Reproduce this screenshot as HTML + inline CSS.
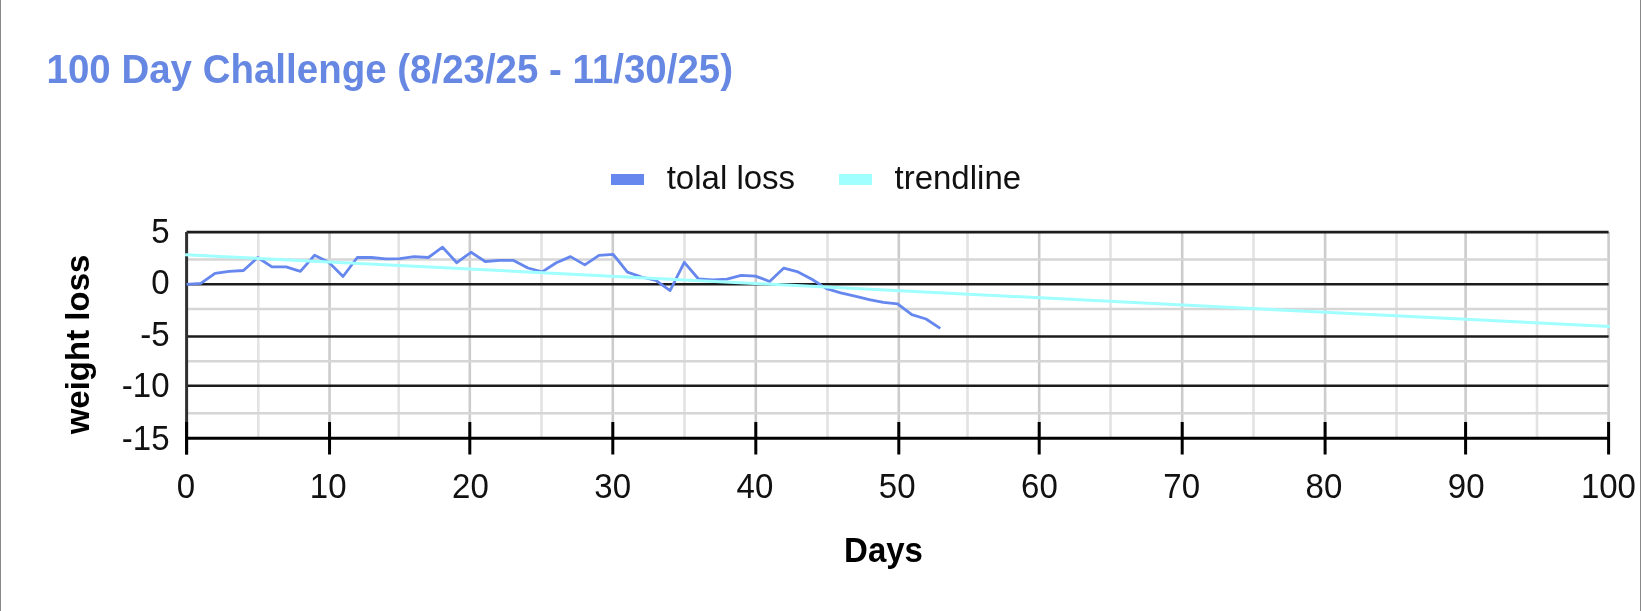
<!DOCTYPE html>
<html><head><meta charset="utf-8"><style>
html,body{margin:0;padding:0;background:#fff;width:1641px;height:611px;overflow:hidden}
body{position:relative;font-family:"Liberation Sans",sans-serif}
.bl{position:absolute;top:0;bottom:0;width:1.3px;background:#888}
svg{position:absolute;left:0;top:0;will-change:transform}
.ax{font-family:"Liberation Sans",sans-serif;font-size:33px;fill:#111}
.b{font-weight:bold}
</style></head><body>
<div class="bl" style="left:0"></div>
<div class="bl" style="right:0"></div>
<svg width="1641" height="611" viewBox="0 0 1641 611">
<text transform="translate(46.5,83) scale(1,1.035)" style="font-family:'Liberation Sans',sans-serif;font-size:38.5px;font-weight:bold;fill:#6688e2">100 Day Challenge (8/23/25 - 11/30/25)</text>
<rect x="611" y="174" width="33" height="11" fill="#6688ee"/>
<text transform="translate(666.7,188.8)" class="ax">tolal loss</text>
<rect x="839" y="174" width="33" height="11" fill="#a0ffff"/>
<text transform="translate(894.5,188.8)" class="ax">trendline</text>
<line x1="258.30" y1="232" x2="258.30" y2="438" stroke="#e3e3e3" stroke-width="2.6"/><line x1="398.70" y1="232" x2="398.70" y2="438" stroke="#e3e3e3" stroke-width="2.6"/><line x1="541.50" y1="232" x2="541.50" y2="438" stroke="#e3e3e3" stroke-width="2.6"/><line x1="684.50" y1="232" x2="684.50" y2="438" stroke="#e3e3e3" stroke-width="2.6"/><line x1="827.50" y1="232" x2="827.50" y2="438" stroke="#e3e3e3" stroke-width="2.6"/><line x1="967.50" y1="232" x2="967.50" y2="438" stroke="#e3e3e3" stroke-width="2.6"/><line x1="1110.50" y1="232" x2="1110.50" y2="438" stroke="#e3e3e3" stroke-width="2.6"/><line x1="1253.50" y1="232" x2="1253.50" y2="438" stroke="#e3e3e3" stroke-width="2.6"/><line x1="1396.50" y1="232" x2="1396.50" y2="438" stroke="#e3e3e3" stroke-width="2.6"/><line x1="1537.00" y1="232" x2="1537.00" y2="438" stroke="#e3e3e3" stroke-width="2.6"/><line x1="329.55" y1="232" x2="329.55" y2="438" stroke="#cccccc" stroke-width="2.6"/><line x1="469.80" y1="232" x2="469.80" y2="438" stroke="#cccccc" stroke-width="2.6"/><line x1="612.80" y1="232" x2="612.80" y2="438" stroke="#cccccc" stroke-width="2.6"/><line x1="755.80" y1="232" x2="755.80" y2="438" stroke="#cccccc" stroke-width="2.6"/><line x1="898.80" y1="232" x2="898.80" y2="438" stroke="#cccccc" stroke-width="2.6"/><line x1="1039.20" y1="232" x2="1039.20" y2="438" stroke="#cccccc" stroke-width="2.6"/><line x1="1182.20" y1="232" x2="1182.20" y2="438" stroke="#cccccc" stroke-width="2.6"/><line x1="1325.10" y1="232" x2="1325.10" y2="438" stroke="#cccccc" stroke-width="2.6"/><line x1="1465.60" y1="232" x2="1465.60" y2="438" stroke="#cccccc" stroke-width="2.6"/><line x1="1608.60" y1="232" x2="1608.60" y2="438" stroke="#cccccc" stroke-width="2.6"/><line x1="186.6" y1="259.5" x2="1608.6" y2="259.5" stroke="#d6d6d6" stroke-width="2.6"/><line x1="186.6" y1="309.0" x2="1608.6" y2="309.0" stroke="#d6d6d6" stroke-width="2.6"/><line x1="186.6" y1="361.2" x2="1608.6" y2="361.2" stroke="#d6d6d6" stroke-width="2.6"/><line x1="186.6" y1="413.3" x2="1608.6" y2="413.3" stroke="#d6d6d6" stroke-width="2.6"/><line x1="186.6" y1="232.1" x2="1608.6" y2="232.1" stroke="#1c1c1c" stroke-width="2.6"/><line x1="186.6" y1="284.3" x2="1608.6" y2="284.3" stroke="#1c1c1c" stroke-width="2.6"/><line x1="186.6" y1="336.5" x2="1608.6" y2="336.5" stroke="#1c1c1c" stroke-width="2.6"/><line x1="186.6" y1="385.8" x2="1608.6" y2="385.8" stroke="#1c1c1c" stroke-width="2.6"/><line x1="186.6" y1="232" x2="186.6" y2="454.5" stroke="#303030" stroke-width="3"/><line x1="186.6" y1="438.2" x2="1608.6" y2="438.2" stroke="#000" stroke-width="3"/><line x1="186.60" y1="422" x2="186.60" y2="454.5" stroke="#000" stroke-width="3"/><line x1="329.55" y1="422" x2="329.55" y2="454.5" stroke="#000" stroke-width="3"/><line x1="469.80" y1="422" x2="469.80" y2="454.5" stroke="#000" stroke-width="3"/><line x1="612.80" y1="422" x2="612.80" y2="454.5" stroke="#000" stroke-width="3"/><line x1="755.80" y1="422" x2="755.80" y2="454.5" stroke="#000" stroke-width="3"/><line x1="898.80" y1="422" x2="898.80" y2="454.5" stroke="#000" stroke-width="3"/><line x1="1039.20" y1="422" x2="1039.20" y2="454.5" stroke="#000" stroke-width="3"/><line x1="1182.20" y1="422" x2="1182.20" y2="454.5" stroke="#000" stroke-width="3"/><line x1="1325.10" y1="422" x2="1325.10" y2="454.5" stroke="#000" stroke-width="3"/><line x1="1465.60" y1="422" x2="1465.60" y2="454.5" stroke="#000" stroke-width="3"/><line x1="1608.60" y1="422" x2="1608.60" y2="454.5" stroke="#000" stroke-width="3"/><polyline points="186.60,284.40 200.82,283.30 215.04,273.30 229.26,271.30 243.48,270.50 257.70,257.50 271.92,266.90 286.14,266.90 300.36,271.40 314.58,255.30 328.80,262.20 343.02,276.50 357.24,257.50 371.46,257.50 385.68,258.90 399.90,258.60 414.12,256.60 428.34,257.50 442.56,247.20 456.78,262.70 471.00,252.30 485.22,261.50 499.44,260.40 513.66,260.40 527.88,268.00 542.10,271.90 556.32,262.70 570.54,256.60 584.76,264.90 598.98,255.40 613.20,254.30 627.42,272.20 641.64,277.00 655.86,280.40 670.08,290.60 684.30,262.30 698.52,279.00 712.74,279.90 726.96,279.20 741.18,275.30 755.40,276.10 769.62,281.50 783.84,268.10 798.06,271.90 812.28,279.50 826.50,288.60 840.72,292.90 854.94,296.10 869.16,299.60 883.38,302.30 897.60,303.80 911.82,314.70 926.04,319.00 940.26,328.40" fill="none" stroke="#6688ee" stroke-width="2.8" stroke-linejoin="round" stroke-linecap="butt"/><line x1="186.6" y1="254.8" x2="1608.6" y2="326.5" stroke="#a0ffff" stroke-width="3" stroke-linecap="square"/>
<text transform="translate(169.5,243.4) scale(1,1.04)" text-anchor="end" class="ax">5</text><text transform="translate(169.5,293.6) scale(1,1.04)" text-anchor="end" class="ax">0</text><text transform="translate(169.5,345.6) scale(1,1.04)" text-anchor="end" class="ax">-5</text><text transform="translate(169.5,396.9) scale(1,1.04)" text-anchor="end" class="ax">-10</text><text transform="translate(169.5,449.5) scale(1,1.04)" text-anchor="end" class="ax">-15</text><text transform="translate(185.90,498) scale(1,1.04)" text-anchor="middle" class="ax">0</text><text transform="translate(328.15,498) scale(1,1.04)" text-anchor="middle" class="ax">10</text><text transform="translate(470.40,498) scale(1,1.04)" text-anchor="middle" class="ax">20</text><text transform="translate(612.65,498) scale(1,1.04)" text-anchor="middle" class="ax">30</text><text transform="translate(754.90,498) scale(1,1.04)" text-anchor="middle" class="ax">40</text><text transform="translate(897.15,498) scale(1,1.04)" text-anchor="middle" class="ax">50</text><text transform="translate(1039.40,498) scale(1,1.04)" text-anchor="middle" class="ax">60</text><text transform="translate(1181.65,498) scale(1,1.04)" text-anchor="middle" class="ax">70</text><text transform="translate(1323.90,498) scale(1,1.04)" text-anchor="middle" class="ax">80</text><text transform="translate(1466.15,498) scale(1,1.04)" text-anchor="middle" class="ax">90</text><text transform="translate(1608.40,498) scale(1,1.04)" text-anchor="middle" class="ax">100</text>
<text transform="translate(883.5,562) scale(1,1.04)" text-anchor="middle" class="ax b" style="fill:#000">Days</text>
<text transform="translate(89,344.5) rotate(-90)" text-anchor="middle" class="ax b" style="fill:#000">weight loss</text>
</svg>
</body></html>
